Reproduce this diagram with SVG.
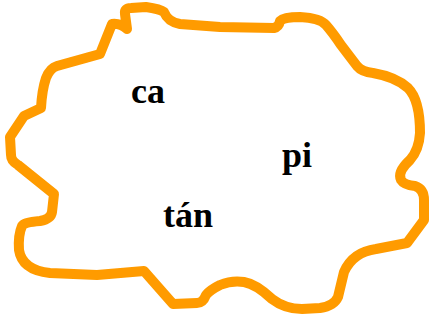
<svg xmlns="http://www.w3.org/2000/svg" width="433" height="320" viewBox="0 0 433 320">
<style>
.blob{fill:none;stroke:#ff9b00;stroke-width:10;stroke-linejoin:round;stroke-linecap:round}
.lbl{font-family:"Liberation Serif","Times New Roman",serif;font-weight:bold;font-size:36px;fill:#000;text-anchor:middle}
</style>
<rect width="433" height="320" fill="#fff"/>
<g id="connectors"></g>
<g id="outline">
<path class="blob" d="M127,29 L125,14 Q124,8 131,8 L146,7 Q160,9 164,12 Q168,22 180,24 L220,27 L274,28 Q279,27 280,21 Q284,17 300,17 Q320,18 326,25 Q333,33 341,45 L357,66 Q362,72 373,73 Q396,77 408,88 Q420,100 420,133 Q419,150 410,160 Q397,172 401,180 Q404,185 415,186 Q424,189 424,200 L424,220 L407,243 L376,249 Q353,252 344,272 L338,297 Q334,306 320,308 L302,309 Q285,309 272,299 Q256,284 244,282 Q232,280 220,285 Q210,290 206,295 Q203,303 197,303 L173,304 L144,271 L97,275 L50,273 Q22,270 19,250 Q18,235 22,226 Q24,222 40,221 Q51,219 52,212 L54,194 L18,165 Q11,161 11,155 L10,137 L24,116 L41,108 Q42,90 46,78 Q50,68 57,66 L100,54 L112,24 Q120,23 127,29"/>
</g>
<g id="node-ca"><text class="lbl" x="148" y="103">ca</text></g>
<g id="node-pi"><text class="lbl" x="297" y="167">pi</text></g>
<g id="node-tan"><text class="lbl" x="188" y="227">tán</text></g>
</svg>
